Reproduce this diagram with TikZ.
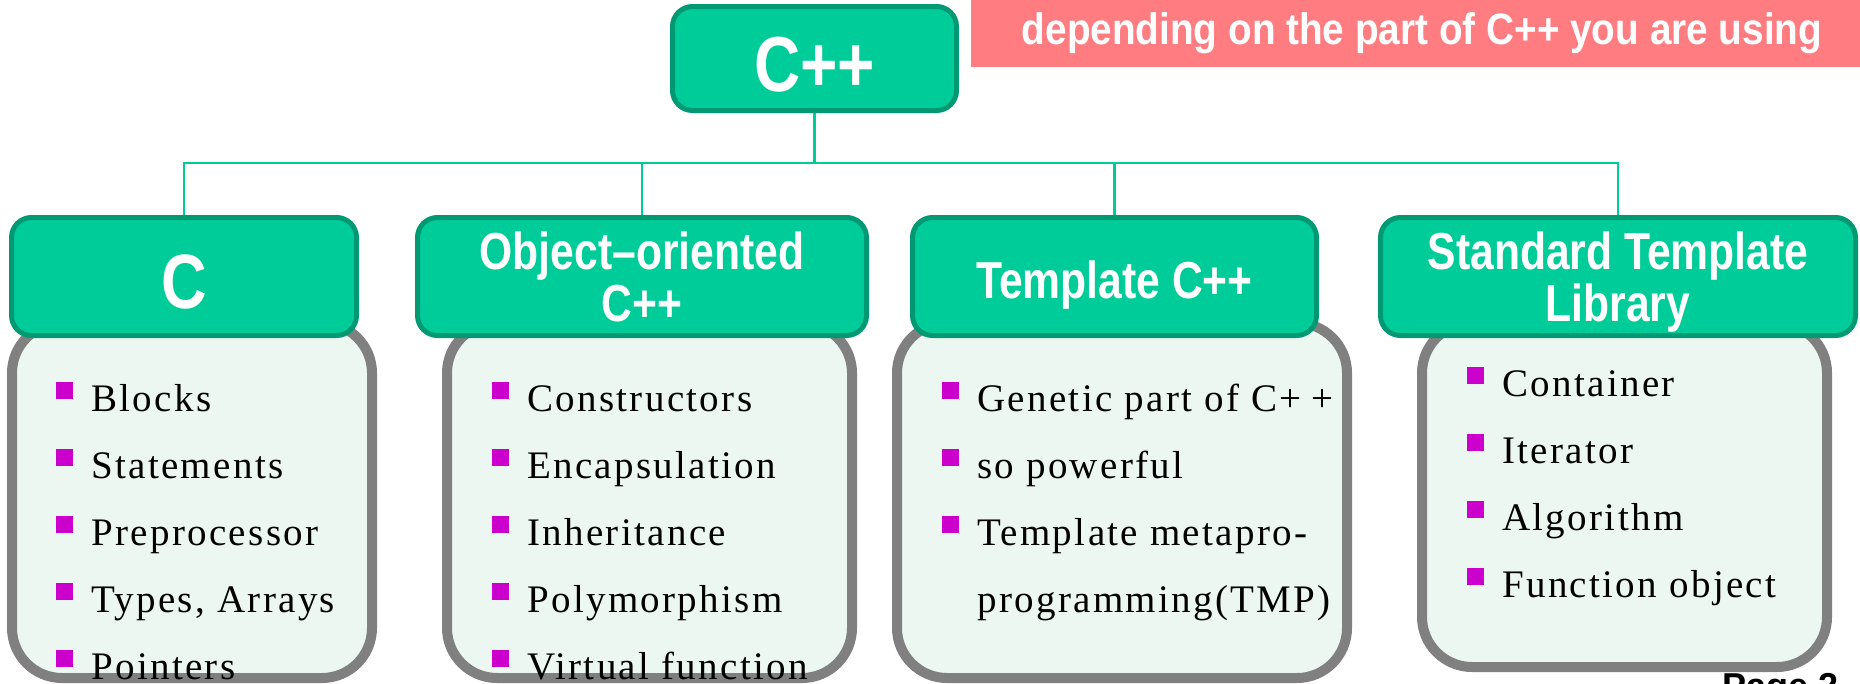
\documentclass[tikz,border=0pt]{standalone}
\usepackage{fontspec}
\setmainfont{Liberation Serif}
\newfontfamily\bodyfont[LetterSpace=6]{Liberation Serif}
\newfontfamily\headfont[FakeStretch=0.82]{Liberation Sans}
\newfontfamily\bannerfont[FakeStretch=0.88]{Liberation Sans}
\newfontfamily\pagefont{Liberation Sans}
\definecolor{hfill}{RGB}{0,204,153}
\definecolor{hdraw}{RGB}{0,153,115}
\definecolor{bfill}{RGB}{237,247,242}
\definecolor{bdraw}{RGB}{128,128,128}
\definecolor{bul}{RGB}{204,0,204}
\definecolor{bannercol}{RGB}{255,124,128}
\newcommand{\bsq}{\textcolor{bul}{\rule[12pt]{17pt}{17pt}}\hspace*{18pt}}
\newcommand{\hdfs}[1]{\headfont\bfseries\fontsize{#1}{52}\selectfont}
\begin{document}
\begin{tikzpicture}[x=1pt,y=-1pt,
  hbox/.style={rectangle, rounded corners=20pt, fill=hfill, draw=hdraw, line width=5pt, text=white, inner sep=0pt, align=center},
  body/.style={rectangle, rounded corners=50pt, fill=bfill, draw=bdraw, line width=10pt, inner sep=0pt},
  list/.style={inner sep=0pt, align=left, anchor=north west, font=\bodyfont\fontsize{39}{67}\selectfont},
  conn/.style={draw=hfill, line width=2.5pt}]
\useasboundingbox (0,0) rectangle (1860,683);
\clip (0,0) rectangle (1860,683);

% banner
\node[fill=bannercol, minimum width=902pt, minimum height=67pt, inner sep=0pt, text=white,
      font=\bannerfont\bfseries\fontsize{44}{44}\selectfont, text height=31pt, text depth=10pt]
      (banner) at (1422,33.5) {depending on the part of C++ you are using};

% bodies
\node[body, minimum width=360pt, minimum height=355pt] (bC) at (192,500.5) {};
\node[body, minimum width=405pt, minimum height=355pt] (bO) at (649.5,500.5) {};
\node[body, minimum width=450pt, minimum height=355pt] (bT) at (1122,500.5) {};
\node[body, minimum width=405pt, minimum height=344pt] (bS) at (1624.5,495) {};

% headers
\node[hbox, minimum width=284pt, minimum height=104pt, font=\hdfs{78}, text height=65pt, text depth=0pt] (top) at (814.5,58.5) {C++};
\node[hbox, minimum width=345pt, minimum height=118pt, font=\hdfs{77}, text height=63pt, text depth=0pt] (hC) at (184,276.5) {C};
\node[hbox, minimum width=449pt, minimum height=118pt, font=\hdfs{52}] (hO) at (642,276.5) {Object–oriented\\C++};
\node[hbox, minimum width=404pt, minimum height=118pt, font=\hdfs{52}, text height=43pt, text depth=0pt] (hT) at (1114.5,276.5) {Template C++};
\node[hbox, minimum width=475pt, minimum height=118pt, font=\hdfs{52}] (hS) at (1618,276.5) {Standard Template\\Librar\smash{y}};

% connectors
\coordinate (bus) at (814.5,163);
\draw[conn] (top.south) -- (bus);
\draw[conn] (hC.north) |- (bus -| hS.north) -- (hS.north);
\draw[conn] (hO.north) -- (hO.north |- bus);
\draw[conn] (hT.north) -- (hT.north |- bus);

% lists
\node[list] (lC) at (56,382) {\bsq Blocks\\\bsq Statements\\\bsq Preprocessor\\\bsq Types, Arrays\\\bsq Pointers};
\node[list] (lO) at (492,382) {\bsq Constructors\\\bsq Encapsulation\\\bsq Inheritance\\\bsq Polymorphism\\\bsq Virtual function};
\node[list] (lT) at (942,382) {\bsq Genetic part of C+\kern10pt+\\\bsq so powerful\\\bsq Template metapro-\\\hspace*{35pt}programming(TMP)};
\node[list] (lS) at (1467,367) {\bsq Container\\\bsq Iterator\\\bsq Algorithm\\\bsq Function object};

% page number
\node[anchor=base west, inner sep=0pt, font=\pagefont\bfseries\fontsize{36}{36}\selectfont] (pg) at (1722,698) {Page 2};
\end{tikzpicture}
\end{document}
